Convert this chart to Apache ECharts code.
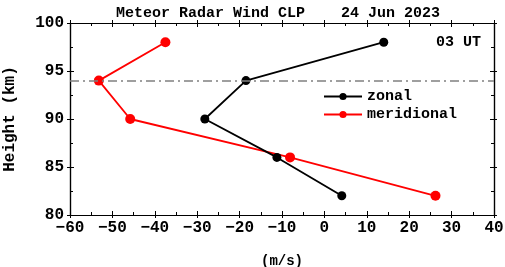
<!DOCTYPE html>
<html>
<head>
<meta charset="utf-8">
<script src="https://cdn.jsdelivr.net/npm/echarts@6/dist/echarts.min.js"></script>
<style>
  html, body { margin: 0; padding: 0; background: #fff; }
  #chart { width: 505px; height: 267px; }
</style>
</head>
<body>
<div id="chart"></div>
<script>
// heights (km) and wind speeds (m/s)
const heights = [98, 94, 90, 86, 82];
const zonal = [14, -18.5, -28.2, -11.2, 4.1];
const meridional = [-37.5, -53.2, -45.8, -8.1, 26.2];
const refHeight = 94;

const FONT = "Liberation Mono";

function pairs(xs) {
  return xs.map((x, i) => [x, heights[i]]);
}

// ECharts has no crossing ticks, so each side gets an outside + inside copy
function xAxisCopy(position, inside, labels) {
  return {
    type: "value",
    position: position,
    min: -60,
    max: 40,
    interval: 10,
    axisLine: { show: true, onZero: false, lineStyle: { color: "#000", width: 1.2 } },
    axisTick: { show: true, inside: inside, length: inside ? 4 : 3, lineStyle: { color: "#000" } },
    minorTick: { show: inside, splitNumber: 2, length: 3, lineStyle: { color: "#000" } },
    splitLine: { show: false },
    axisLabel: {
      show: labels,
      color: "#000",
      fontFamily: FONT,
      fontWeight: "bold",
      fontSize: 16,
      margin: 5,
      formatter: v => String(v).replace("-", "\u2212")
    },
    name: labels ? "(m/s)" : "",
    nameLocation: "middle",
    nameGap: 39,
    nameTextStyle: { color: "#000", fontFamily: FONT, fontWeight: "bold", fontSize: 14 }
  };
}

function yAxisCopy(position, inside, labels) {
  return {
    type: "value",
    position: position,
    min: 80,
    max: 100,
    interval: 5,
    axisLine: { show: true, onZero: false, lineStyle: { color: "#000", width: 1.2 } },
    axisTick: { show: true, inside: inside, length: inside ? 4 : 3, lineStyle: { color: "#000" } },
    minorTick: { show: inside, splitNumber: 2, length: 3, lineStyle: { color: "#000" } },
    splitLine: { show: false },
    axisLabel: {
      show: labels,
      color: "#000",
      fontFamily: FONT,
      fontWeight: "bold",
      fontSize: 16,
      margin: 6
    },
    name: labels ? "Height (km)" : "",
    nameLocation: "middle",
    nameGap: 52,
    nameRotate: 90,
    nameTextStyle: { color: "#000", fontFamily: FONT, fontWeight: "bold", fontSize: 16 }
  };
}

const chart = echarts.init(document.getElementById("chart"));
const option = {
  animation: false,
  backgroundColor: "#fff",
  title: {
    text: "Meteor Radar Wind CLP    24 Jun 2023",
    left: 273,
    textAlign: "center",
    top: 1,
    textStyle: { color: "#000", fontFamily: FONT, fontWeight: "bold", fontSize: 15 }
  },
  graphic: [
    {
      type: "text",
      right: 24,
      top: 35,
      style: { text: "03 UT", fill: "#000", font: "bold 15px 'Liberation Mono'" }
    }
  ],
  legend: {
    orient: "vertical",
    left: 318,
    top: 84,
    itemWidth: 38,
    itemHeight: 9,
    itemGap: 3,
    textStyle: { color: "#000", fontFamily: FONT, fontWeight: "bold", fontSize: 15 },
    data: ["zonal", "meridional"]
  },
  grid: { left: 70, right: 11, top: 23, bottom: 52, outerBoundsMode: "none" },
  xAxis: [
    xAxisCopy("bottom", false, true),
    xAxisCopy("bottom", true, false),
    xAxisCopy("top", false, false),
    xAxisCopy("top", true, false)
  ],
  yAxis: [
    yAxisCopy("left", false, true),
    yAxisCopy("left", true, false),
    yAxisCopy("right", false, false),
    yAxisCopy("right", true, false)
  ],
  series: [
    {
      name: "zonal",
      type: "line",
      data: pairs(zonal),
      symbol: "circle",
      symbolSize: 9,
      color: "#000",
      lineStyle: { color: "#000", width: 1.8 },
      markLine: {
        silent: true,
        symbol: "none",
        label: { show: false },
        lineStyle: { color: "#808080", width: 1.5, type: [9, 4, 2, 4] },
        data: [{ yAxis: refHeight }]
      },
      z: 3
    },
    {
      name: "meridional",
      type: "line",
      data: pairs(meridional),
      symbol: "circle",
      symbolSize: 10,
      color: "#ff0000",
      lineStyle: { color: "#ff0000", width: 1.8 },
      z: 2
    }
  ]
};
chart.setOption(option);
</script>
</body>
</html>
